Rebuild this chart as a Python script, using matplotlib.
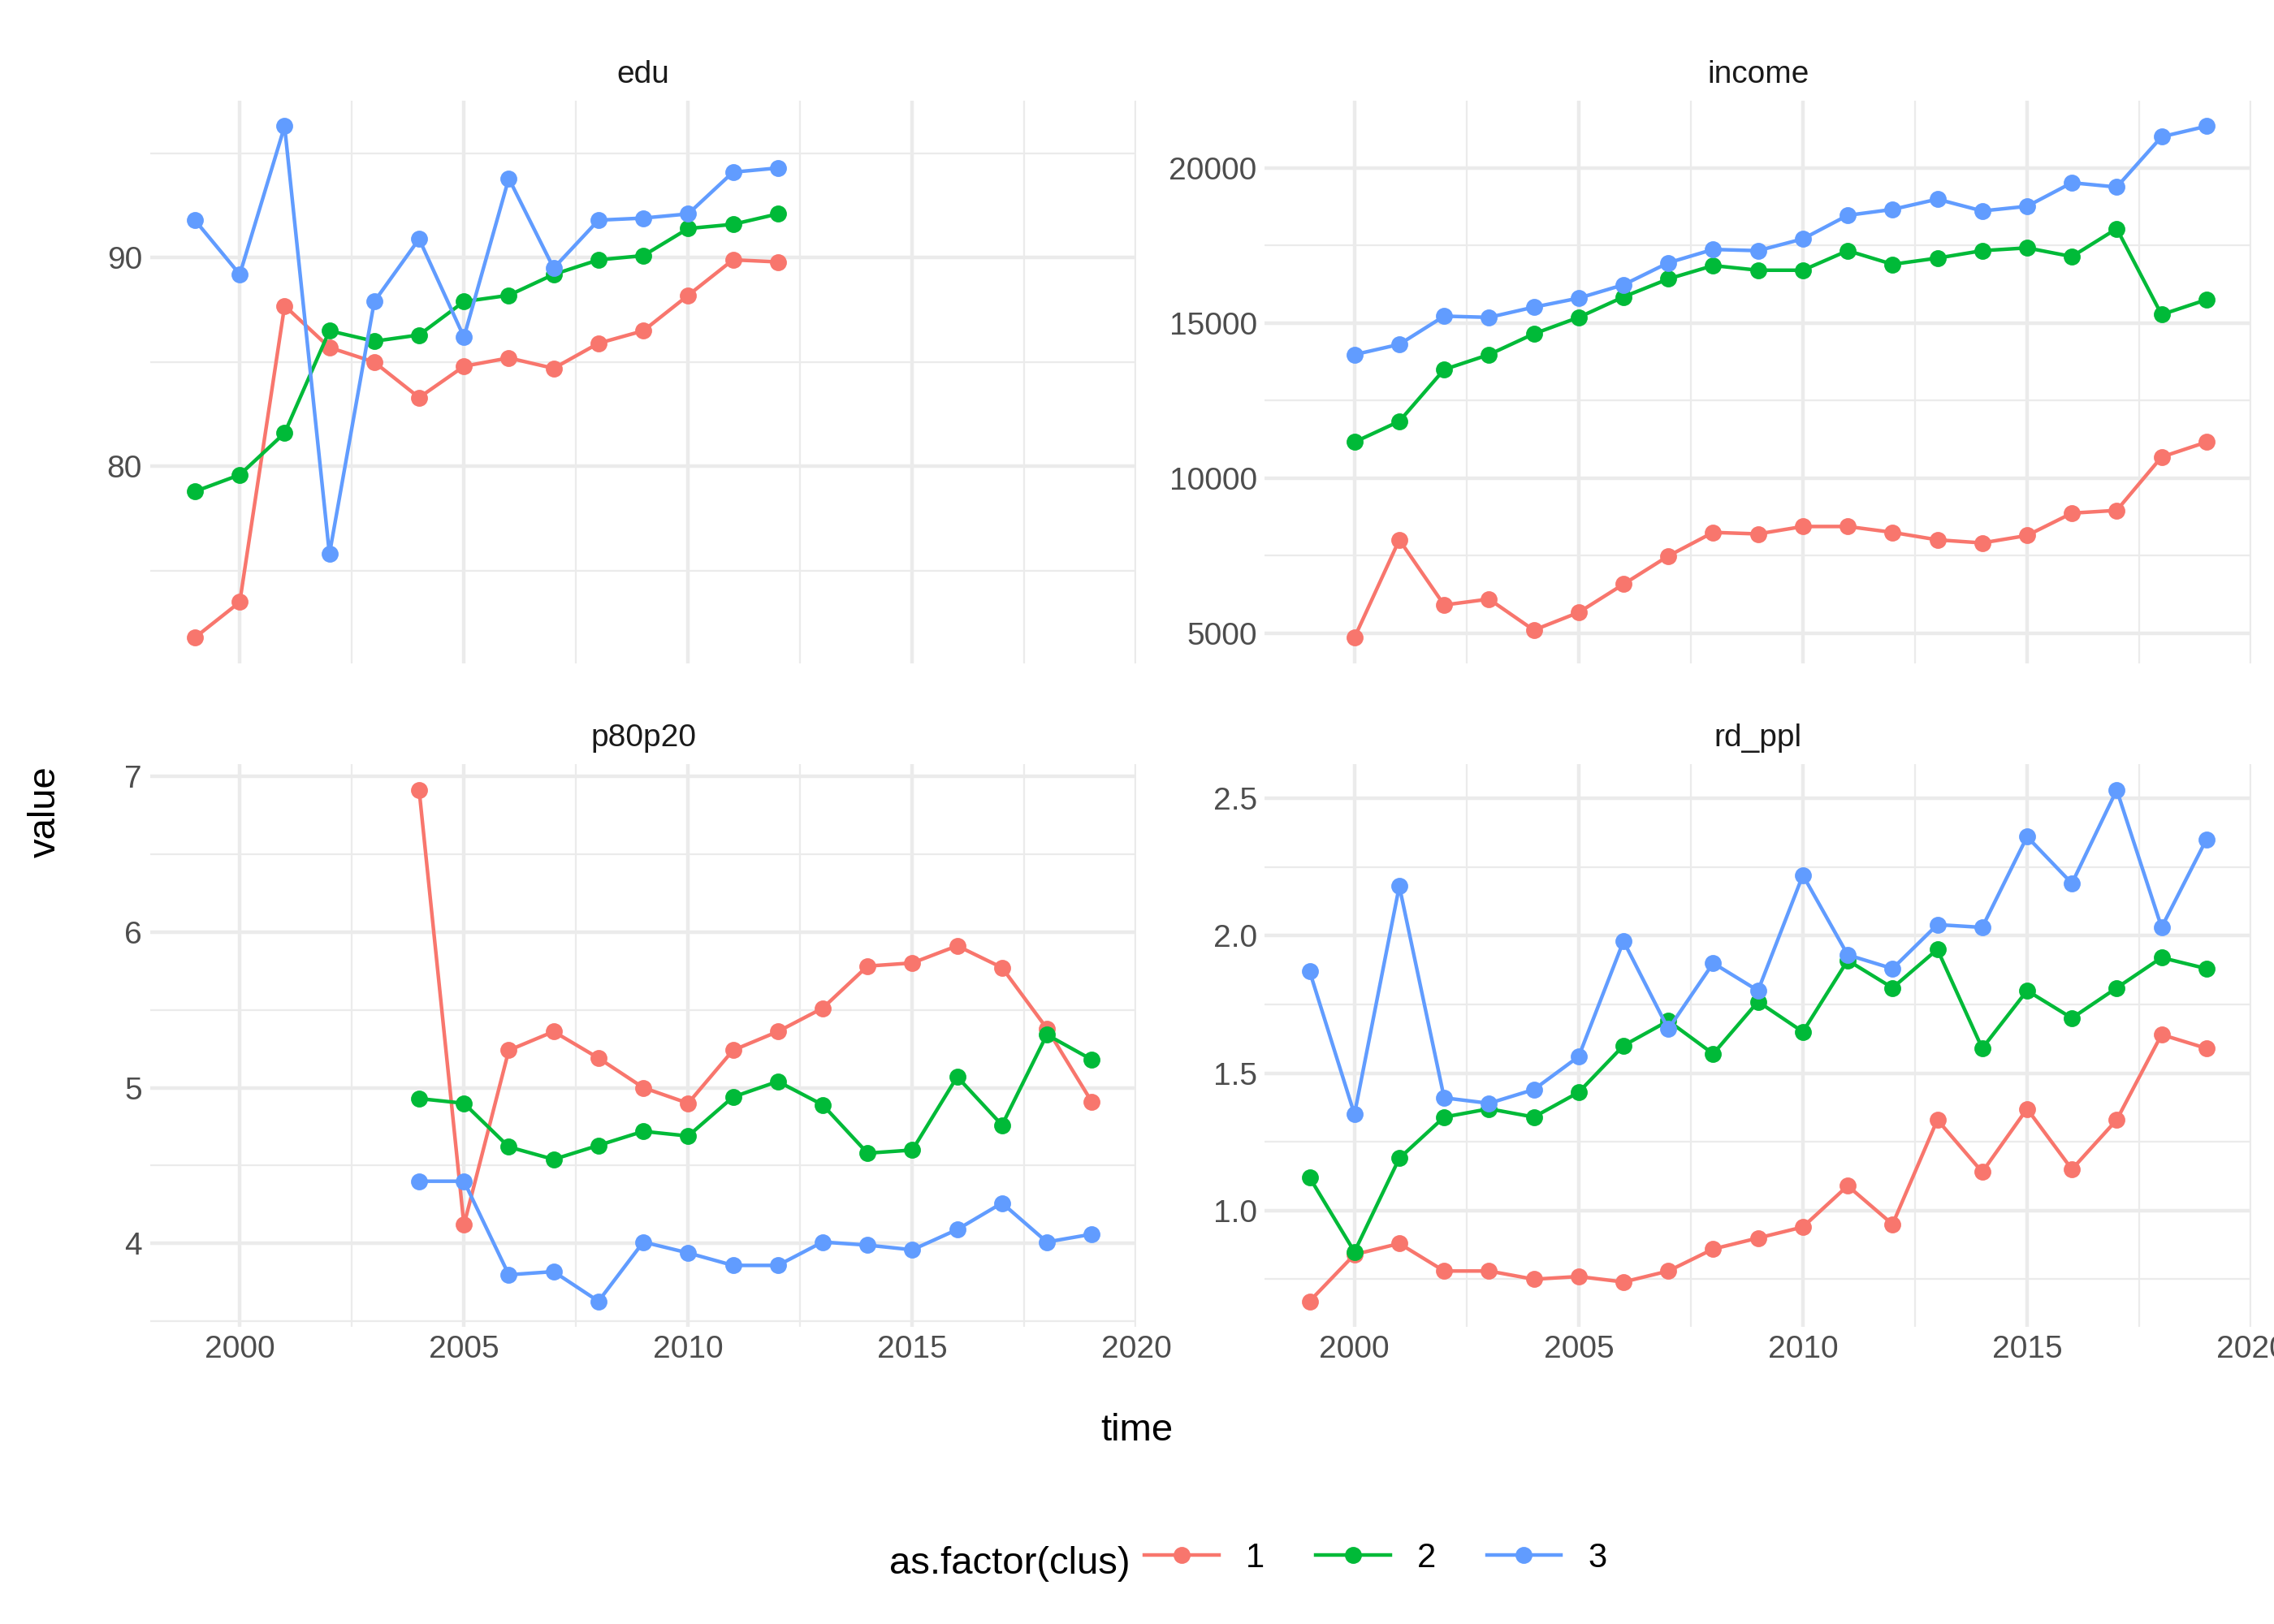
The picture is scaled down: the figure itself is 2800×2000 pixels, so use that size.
import matplotlib.pyplot as plt
from matplotlib.ticker import MultipleLocator
from matplotlib.lines import Line2D

plt.rcParams['font.family'] = ['Liberation Sans', 'DejaVu Sans']

# values, one list per cluster
edu_years = list(range(1999, 2013))
edu_1 = [71.8, 73.5, 87.7, 85.7, 85.0, 83.3, 84.8, 85.2, 84.7, 85.9, 86.5, 88.2, 89.9, 89.8]
edu_2 = [78.8, 79.6, 81.6, 86.5, 86.0, 86.3, 87.9, 88.2, 89.2, 89.9, 90.1, 91.4, 91.6, 92.1]
edu_3 = [91.8, 89.2, 96.3, 75.8, 87.9, 90.9, 86.2, 93.8, 89.5, 91.8, 91.9, 92.1, 94.1, 94.3]

inc_years = list(range(2000, 2020))
inc_1 = [4860, 8010, 5910, 6100, 5100, 5670, 6580, 7490, 8250, 8200,
         8440, 8440, 8250, 8010, 7910, 8150, 8870, 8960, 10680, 11160]
inc_2 = [11160, 11830, 13500, 13980, 14650, 15180, 15840, 16420, 16850, 16700,
         16700, 17330, 16890, 17090, 17330, 17420, 17140, 18040, 15270, 15750]
inc_3 = [13980, 14310, 15220, 15180, 15510, 15800, 16230, 16940, 17370, 17330,
         17710, 18470, 18660, 18990, 18610, 18760, 19520, 19380, 21000, 21340]

p_years = list(range(2004, 2020))
p_1 = [6.91, 4.12, 5.24, 5.36, 5.19, 5.00, 4.90, 5.24, 5.36, 5.51, 5.78, 5.80, 5.91, 5.77, 5.38, 4.91]
p_2 = [4.93, 4.90, 4.62, 4.54, 4.63, 4.72, 4.69, 4.94, 5.04, 4.89, 4.58, 4.60, 5.07, 4.76, 5.34, 5.18]
p_3 = [4.40, 4.40, 3.80, 3.82, 3.63, 4.01, 3.94, 3.86, 3.86, 4.01, 3.99, 3.96, 4.09, 4.26, 4.01, 4.06]

rd_years = list(range(1999, 2020))
rd_1 = [0.67, 0.84, 0.88, 0.78, 0.78, 0.75, 0.76, 0.74, 0.78, 0.86, 0.90,
        0.94, 1.09, 0.95, 1.33, 1.14, 1.37, 1.15, 1.33, 1.64, 1.59]
rd_2 = [1.12, 0.85, 1.19, 1.34, 1.37, 1.34, 1.43, 1.60, 1.69, 1.57, 1.76,
        1.65, 1.91, 1.81, 1.95, 1.59, 1.80, 1.70, 1.81, 1.92, 1.88]
rd_3 = [1.87, 1.35, 2.18, 1.41, 1.39, 1.44, 1.56, 1.98, 1.66, 1.90, 1.80,
        2.22, 1.93, 1.88, 2.04, 2.03, 2.36, 2.19, 2.53, 2.03, 2.35]

colors = ["#F8766D", "#00BA38", "#619CFF"]
clusters = ["1", "2", "3"]

panels = [
    ("edu", edu_years, [edu_1, edu_2, edu_3], 10, 5),
    ("income", inc_years, [inc_1, inc_2, inc_3], 5000, 2500),
    ("p80p20", p_years, [p_1, p_2, p_3], 1, 0.5),
    ("rd_ppl", rd_years, [rd_1, rd_2, rd_3], 0.5, 0.25),
]

fig, axes = plt.subplots(2, 2, figsize=(14, 10), dpi=200, sharex=True)
fig.subplots_adjust(left=0.066, right=0.99, top=0.938, bottom=0.183, wspace=0.13, hspace=0.18)

for i, (ax, (name, years, series, major, minor)) in enumerate(zip(axes.flat, panels)):
    for ys, c in zip(series, colors):
        ax.plot(years, ys, color=c, linewidth=1.6, marker="o", markersize=6.5, zorder=3)
    ax.set_title(name, fontsize=14, color="#1a1a1a", pad=8)
    ax.set_xlim(1998, 2020)
    ax.xaxis.set_major_locator(MultipleLocator(5))
    ax.xaxis.set_minor_locator(MultipleLocator(2.5))
    ax.yaxis.set_major_locator(MultipleLocator(major))
    ax.yaxis.set_minor_locator(MultipleLocator(minor))
    ax.grid(True, which="major", color="#EBEBEB", linewidth=1.6)
    ax.grid(True, which="minor", color="#EBEBEB", linewidth=0.8)
    ax.set_axisbelow(True)
    for s in ax.spines.values():
        s.set_visible(False)
    ax.tick_params(which="both", length=0, labelsize=14, labelcolor="#4D4D4D")
    ax.tick_params(axis="x", labelbottom=(i >= 2))

fig.supxlabel("time", fontsize=17, y=0.108)
fig.supylabel("value", fontsize=17, x=0.012)

handles = [Line2D([0], [0], color=c, marker="o", markersize=6.5, linewidth=1.6) for c in colors]
fig.legend(handles, clusters, loc="lower center", ncol=3,
           bbox_to_anchor=(0.605, 0.012), frameon=False, fontsize=15,
           handlelength=2.2, columnspacing=1.5)
fig.text(0.497, 0.037, "as.factor(clus)", fontsize=17, ha="right", va="center")

plt.savefig("out.png", dpi=200)
